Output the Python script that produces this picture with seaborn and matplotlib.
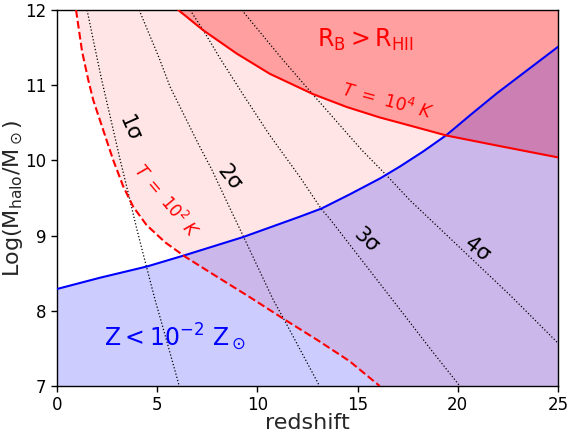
import numpy as np
import matplotlib
matplotlib.use("Agg")
import matplotlib.pyplot as plt
import seaborn as sns

# ---- data ----
# metallicity boundary (blue)
x_blue = [0, 2.15, 4.5, 6.39, 9.28, 12.1, 13.2, 14.62, 16.12, 17.12, 18.28, 19.45, 20.61, 21.94, 23.27, 25]
y_blue = [8.29, 8.44, 8.59, 8.74, 8.98, 9.25, 9.36, 9.55, 9.76, 9.92, 10.12, 10.34, 10.60, 10.89, 11.16, 11.51]

# T = 10^4 K (red solid)
x_t4 = [6.05, 7.30, 8.97, 10.63, 12.79, 14.46, 16.12, 17.1, 19.45, 22.1, 25]
y_t4 = [12.0, 11.73, 11.42, 11.15, 10.88, 10.71, 10.57, 10.5, 10.33, 10.19, 10.04]

# T = 10^2 K (red dashed)
x_t2 = [0.95, 1.25, 1.56, 1.81, 2.31, 2.81, 3.31, 3.81, 4.47, 5.4, 6.39, 8.0, 9.63, 11.38, 13.0, 14.6, 16.1]
y_t2 = [12.0, 11.45, 11.07, 10.80, 10.40, 10.0, 9.65, 9.38, 9.14, 8.91, 8.72, 8.45, 8.18, 7.88, 7.61, 7.33, 7.0]

# sigma contours (black dotted)
x_s1 = [1.5, 1.85, 2.23, 2.64, 3.14, 3.56, 3.97, 4.47, 4.9, 5.4, 6.1]
y_s1 = [12.0, 11.55, 11.07, 10.6, 10.02, 9.56, 9.1, 8.58, 8.14, 7.67, 7.0]
x_s2 = [4.1, 5.1, 5.64, 6.05, 7.05, 7.72, 8.53, 9.28, 10.8, 11.38, 13.1]
y_s2 = [12.0, 11.36, 10.98, 10.76, 10.22, 9.88, 9.42, 9.0, 8.14, 7.86, 7.0]
x_s3 = [6.64, 7.30, 8.13, 9.3, 10.6, 12.12, 13.2, 13.62, 16.7, 18.7, 20.1]
y_s3 = [12.0, 11.73, 11.36, 10.87, 10.34, 9.78, 9.35, 9.22, 8.16, 7.47, 7.0]
x_s4 = [9.22, 11.2, 12.79, 15.2, 16.45, 17.61, 22.6, 25]
y_s4 = [12.0, 11.36, 10.87, 10.14, 9.8, 9.47, 8.21, 7.57]

sigma_labels = ["1σ", "2σ", "3σ", "4σ"]
sigma_label_x = [3.64, 8.58, 15.42, 20.96]
sigma_label_y = [10.42, 9.77, 8.93, 8.82]
sigma_label_rot = [-66, -52, -42, -38]

xlim = (0, 25)
ylim = (7, 12)
xticks = [0, 5, 10, 15, 20, 25]
yticks = [7, 8, 9, 10, 11, 12]

# ---- plotting ----
sns.set_style("ticks")
plt.rcParams["font.family"] = ["DejaVu Sans"]
plt.rcParams["mathtext.fontset"] = "dejavusans"

fig = plt.figure(figsize=(5.69, 4.32), dpi=100)
ax = fig.add_axes([57 / 569, 1 - 386 / 432, 501 / 569, 376 / 432])

# filled regions
ax.fill_betweenx(y_t2, x_t2, xlim[1], facecolor="red", alpha=0.1, linewidth=0, zorder=1)
ax.fill_between(x_t4, y_t4, ylim[1], facecolor="red", alpha=0.3, linewidth=0, zorder=1)
ax.fill_between(x_blue, ylim[0], y_blue, facecolor="blue", alpha=0.2, linewidth=0, zorder=1)

# boundary lines
sns.lineplot(x=x_blue, y=y_blue, sort=False, estimator=None, color="blue", lw=1.5, ax=ax, zorder=3)
sns.lineplot(x=x_t4, y=y_t4, sort=False, estimator=None, color="red", lw=1.5, ax=ax, zorder=3)
sns.lineplot(x=x_t2, y=y_t2, sort=False, estimator=None, color="red", lw=1.5, ax=ax, zorder=3,
             linestyle="--")
for xs, ys in [(x_s1, y_s1), (x_s2, y_s2), (x_s3, y_s3), (x_s4, y_s4)]:
    sns.lineplot(x=xs, y=ys, sort=False, estimator=None, color="black", lw=0.9, ax=ax, zorder=2,
                 linestyle=":")

for lab, lx, ly, rot in zip(sigma_labels, sigma_label_x, sigma_label_y, sigma_label_rot):
    ax.text(lx, ly, lab, fontsize=15, rotation=rot, rotation_mode="anchor",
            ha="center", va="center", color="black", zorder=4)

ax.text(5.45, 9.45, r"$T\ =\ 10^2\ K$", color="red", fontsize=12, rotation=-50,
        rotation_mode="anchor", ha="center", va="center", zorder=4)
ax.text(16.5, 10.78, r"$T\ =\ 10^4\ K$", color="red", fontsize=12.5, rotation=-15,
        rotation_mode="anchor", ha="center", va="center", zorder=4)
ax.text(15.4, 11.6, r"$\mathrm{R_B > R_{HII}}$", color="red", fontsize=17,
        ha="center", va="center", zorder=4)
ax.text(5.9, 7.65, r"$\mathrm{Z < 10^{-2}\ Z_\odot}$", color="blue", fontsize=17,
        ha="center", va="center", zorder=4)

ax.set_xlim(*xlim)
ax.set_ylim(*ylim)
ax.set_xticks(xticks)
ax.set_yticks(yticks)
ax.tick_params(axis="both", labelsize=12, length=4, width=1, direction="out",
               colors="black", top=False, right=False)
for sp in ax.spines.values():
    sp.set_color("black")
    sp.set_linewidth(1)
ax.set_xlabel("redshift", fontsize=16, labelpad=-1)
ax.set_ylabel(r"$\mathrm{Log(M_{halo}/M_\odot)}$", fontsize=16, labelpad=0)

fig.savefig("out.png", dpi=100)
